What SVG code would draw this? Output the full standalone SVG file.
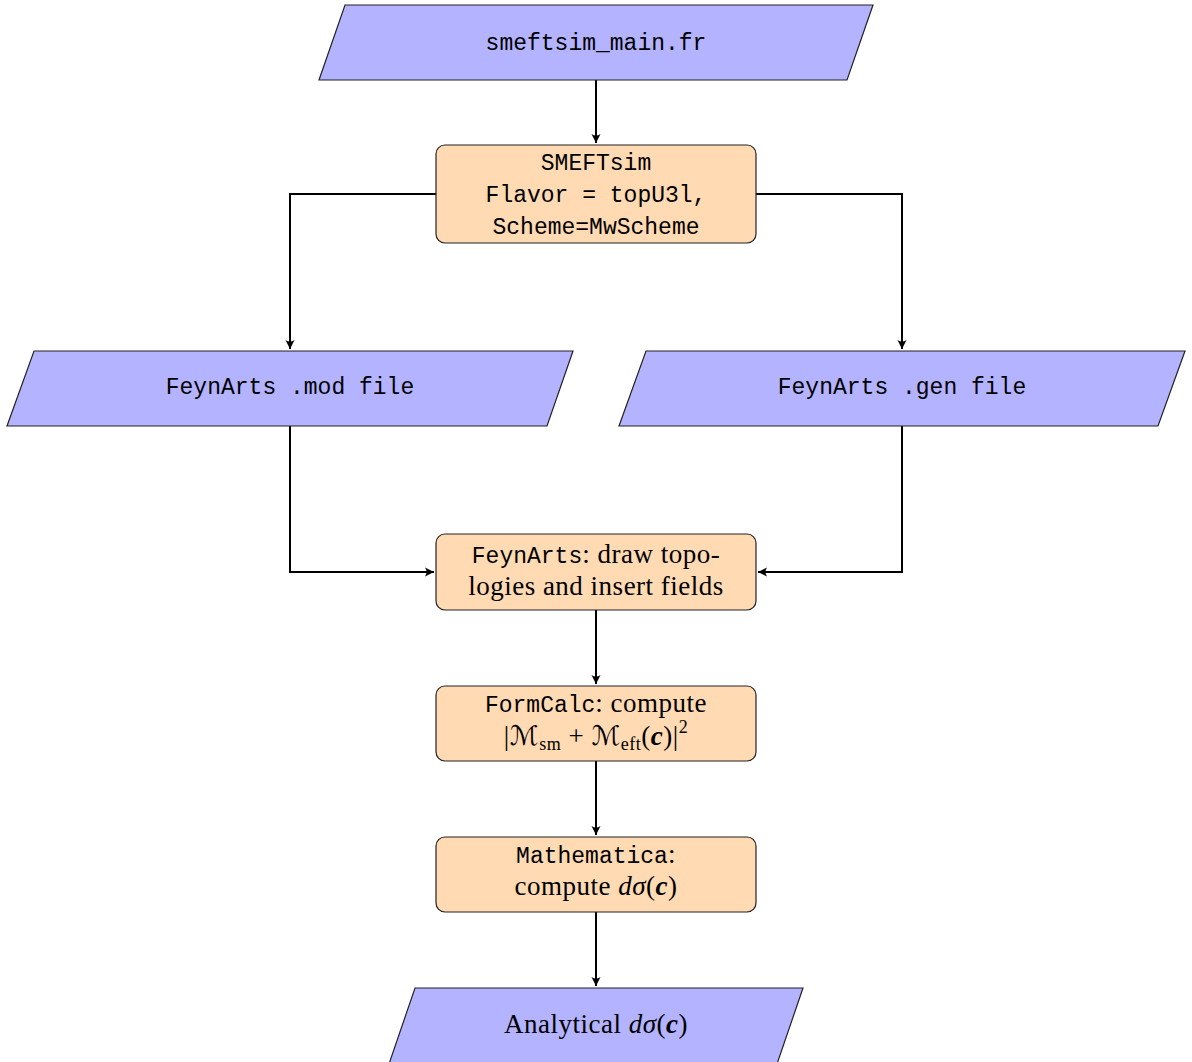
<svg xmlns="http://www.w3.org/2000/svg" width="1192" height="1062" viewBox="0 0 1192 1062">
<defs>
<style>
.io{fill:#b3b3ff;stroke:#222;stroke-width:1.2}
.pr{fill:#ffdab3;stroke:#222;stroke-width:1.2}
.tt{font-family:"Liberation Mono","DejaVu Sans Mono",monospace;font-size:23px;fill:#000;text-anchor:middle}
.rm{font-family:"Liberation Serif","DejaVu Serif",serif;font-size:27px;letter-spacing:0.5px;fill:#000;text-anchor:middle}
.mono{font-family:"Liberation Mono","DejaVu Sans Mono",monospace;font-size:23px;letter-spacing:0}
.it{font-style:italic}
.bi{font-style:italic;font-weight:bold}
.cal{font-family:"DejaVu Serif","DejaVu Sans",serif;font-style:italic}
.sub{font-size:18px}
.conn{fill:none;stroke:#000;stroke-width:2}
</style>
<marker id="ah" viewBox="-10 -6 12 12" refX="0" refY="0" markerWidth="12" markerHeight="12" markerUnits="userSpaceOnUse" orient="auto">
<path d="M0,0 L-9,-4.5 Q-6,0 -9,4.5 Z" fill="#000"/>
</marker>
</defs>
<g id="connectors">
<path class="conn" d="M596,80 V143" marker-end="url(#ah)"/>
<path class="conn" d="M436,194 H290 V349" marker-end="url(#ah)"/>
<path class="conn" d="M756,194 H902 V349" marker-end="url(#ah)"/>
<path class="conn" d="M290,426 V572 H434" marker-end="url(#ah)"/>
<path class="conn" d="M902,426 V572 H758" marker-end="url(#ah)"/>
<path class="conn" d="M596,610 V684" marker-end="url(#ah)"/>
<path class="conn" d="M596,761 V835" marker-end="url(#ah)"/>
<path class="conn" d="M596,912 V986" marker-end="url(#ah)"/>
</g>
<g id="smeftsim_main">
<polygon class="io" points="345,5 873,5 847,80 319,80"/>
<text class="tt" x="596" y="50">smeftsim_main.fr</text>
</g>
<g id="smeftsim">
<rect class="pr" x="436" y="145" width="320" height="98" rx="9"/>
<text class="tt" x="596" y="170">SMEFTsim</text>
<text class="tt" x="596" y="202">Flavor = topU3l,</text>
<text class="tt" x="596" y="234">Scheme=MwScheme</text>
</g>
<g id="feynarts_mod">
<polygon class="io" points="34,351 573,351 547,426 7,426"/>
<text class="tt" x="290" y="394">FeynArts .mod file</text>
</g>
<g id="feynarts_gen">
<polygon class="io" points="646,351 1185,351 1158,426 619,426"/>
<text class="tt" x="902" y="394">FeynArts .gen file</text>
</g>
<g id="feynarts">
<rect class="pr" x="436" y="534" width="320" height="76" rx="9"/>
<text class="rm" x="596" y="563"><tspan class="mono">FeynArts</tspan>: draw topo-</text>
<text class="rm" x="596" y="595">logies and insert fields</text>
</g>
<g id="formcalc">
<rect class="pr" x="436" y="686" width="320" height="75" rx="9"/>
<text class="rm" x="596" y="712"><tspan class="mono">FormCalc</tspan>: compute</text>
<text class="rm" x="596" y="745">|<tspan class="cal">ℳ</tspan><tspan class="sub" dy="5">sm</tspan><tspan dy="-5"> + </tspan><tspan class="cal">ℳ</tspan><tspan class="sub" dy="5">eft</tspan><tspan dy="-5">(</tspan><tspan class="bi">c</tspan>)|<tspan class="sub" dy="-12">2</tspan></text>
</g>
<g id="mathematica">
<rect class="pr" x="436" y="837" width="320" height="75" rx="9"/>
<text class="rm" x="596" y="863"><tspan class="mono">Mathematica</tspan>:</text>
<text class="rm" x="596" y="895">compute <tspan class="it">dσ</tspan>(<tspan class="bi">c</tspan>)</text>
</g>
<g id="analytical">
<polygon class="io" points="415,988 803,988 777,1064 389,1064"/>
<text class="rm" x="596" y="1033">Analytical <tspan class="it">dσ</tspan>(<tspan class="bi">c</tspan>)</text>
</g>
</svg>
